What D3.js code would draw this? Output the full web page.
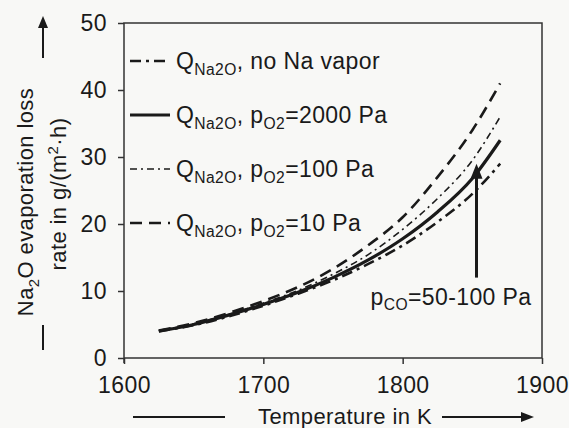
<!DOCTYPE html>
<html>
<head>
<meta charset="utf-8">
<script src="https://cdn.jsdelivr.net/npm/d3@7"></script>
<style>
  body { margin: 0; background: #f8f8f6; }
  svg { font-family: "Liberation Sans", Arial, sans-serif; letter-spacing: 0.4px; }
  .axis path, .axis line { stroke: #333; stroke-width: 1.5px; }
  .axis text { fill: #1a1a1a; font-size: 23px; }
  .curve { fill: none; stroke: #1a1a1a; }
</style>
</head>
<body>
<svg id="chart" width="569" height="428"></svg>
<script>

// temperatures in K
var temps   = [1625, 1650, 1675, 1700, 1725, 1750, 1775, 1800, 1825, 1850, 1870];
// evaporation loss rate in g/(m2 h)
var qNoNa   = [4.0, 4.9, 6.2, 7.8, 9.6, 11.6, 14.0, 16.8, 20.3, 24.5, 29.0];
var q2000   = [4.0, 5.0, 6.4, 8.0, 9.8, 12.0, 14.6, 17.8, 21.8, 26.8, 32.5];
var q100    = [4.1, 5.1, 6.5, 8.2, 10.1, 12.5, 15.4, 19.2, 23.8, 29.5, 36.0];
var q10     = [4.1, 5.2, 6.7, 8.5, 10.6, 13.3, 16.8, 21.0, 27.0, 34.0, 41.0];

var xTicks = [1600, 1700, 1800, 1900];
var yTicks = [0, 10, 20, 30, 40, 50];

var legendLabels = [
  'Q_{Na2O}, no Na vapor',
  'Q_{Na2O}, p_{O2}=2000 Pa',
  'Q_{Na2O}, p_{O2}=100 Pa',
  'Q_{Na2O}, p_{O2}=10 Pa'
];
var annotation = 'p_{CO}=50-100 Pa';
var arrowT = 1853, arrowQ = [12, 29];

var series = [
  {values: qNoNa, width: 2.6, dash: '11,5,3,5'},
  {values: q2000, width: 3.2, dash: null},
  {values: q100,  width: 1.6, dash: '7,4,2,4'},
  {values: q10,   width: 2.6, dash: '12,7'}
];

var m = {top: 23, right: 27, bottom: 70, left: 124};
var W = 569, H = 428;
var width = W - m.left - m.right, height = H - m.top - m.bottom;

var svg = d3.select('#chart');
var g = svg.append('g').attr('transform', 'translate(' + m.left + ',' + m.top + ')');

var x = d3.scaleLinear().domain([1600, 1900]).range([0, width]);
var y = d3.scaleLinear().domain([0, 50]).range([height, 0]);

// writes "a_{b}c" as text with subscript tspans
function richText(sel, str, size) {
  var parts = str.split(/(_\{[^}]*\})/).filter(function (p) { return p; });
  var down = 0;
  parts.forEach(function (p) {
    if (p.charAt(0) === '_') {
      sel.append('tspan').attr('font-size', size * 0.68).attr('dy', size * 0.25)
        .text(p.slice(2, -1));
      down = size * 0.25;
    } else {
      sel.append('tspan').attr('font-size', size).attr('dy', -down).text(p);
      down = 0;
    }
  });
}

// frame
g.append('rect')
  .attr('width', width).attr('height', height)
  .attr('fill', 'none').attr('stroke', '#333').attr('stroke-width', 1.5);

// axes
g.append('g').attr('class', 'axis')
  .attr('transform', 'translate(0,' + height + ')')
  .call(d3.axisBottom(x).tickValues(xTicks).tickSize(6).tickPadding(13).tickFormat(d3.format('d')))
  .call(function (a) { a.select('.domain').remove(); });

g.append('g').attr('class', 'axis')
  .call(d3.axisLeft(y).tickValues(yTicks).tickSize(6).tickPadding(11))
  .call(function (a) { a.select('.domain').remove(); });

// small extension of y axis below the origin
g.append('line')
  .attr('x1', 0).attr('x2', 0).attr('y1', height).attr('y2', height + 5)
  .attr('stroke', '#333').attr('stroke-width', 1.5);

// curves
var line = d3.line()
  .x(function (d, i) { return x(temps[i]); })
  .y(function (d) { return y(d); })
  .curve(d3.curveMonotoneX);

series.forEach(function (s) {
  g.append('path')
    .attr('class', 'curve')
    .attr('d', line(s.values))
    .attr('stroke-width', s.width)
    .attr('stroke-dasharray', s.dash);
});

// legend
var legend = g.append('g').attr('transform', 'translate(6,38)');
legendLabels.forEach(function (lab, i) {
  var row = legend.append('g').attr('transform', 'translate(0,' + (i * 54) + ')');
  var s = series[i];
  row.append('line')
    .attr('x1', 0).attr('x2', 40)
    .attr('stroke', '#1a1a1a')
    .attr('stroke-width', s.width)
    .attr('stroke-dasharray', s.dash);
  var t = row.append('text').attr('x', 46).attr('y', 8).attr('fill', '#1a1a1a');
  richText(t, lab, 23);
});

// annotation arrow
var ax = x(arrowT);
g.append('line')
  .attr('x1', ax).attr('x2', ax)
  .attr('y1', y(arrowQ[0])).attr('y2', y(arrowQ[1]) + 12)
  .attr('stroke', '#1a1a1a').attr('stroke-width', 3);
g.append('path')
  .attr('d', 'M' + ax + ',' + y(arrowQ[1]) + 'l-6,15h12z')
  .attr('fill', '#1a1a1a');
var at = g.append('text').attr('x', ax - 106).attr('y', y(arrowQ[0]) + 27).attr('fill', '#1a1a1a');
richText(at, annotation, 23);

// y axis title
var yt1 = svg.append('text')
  .attr('transform', 'translate(25,202) rotate(-90)')
  .attr('text-anchor', 'middle').attr('y', 8).attr('fill', '#1a1a1a');
richText(yt1, 'Na_{2}O evaporation loss', 22);
var yt2 = svg.append('text')
  .attr('transform', 'translate(58,194) rotate(-90)')
  .attr('text-anchor', 'middle').attr('y', 8).attr('fill', '#1a1a1a');
yt2.append('tspan').attr('font-size', 22).text('rate in g/(m');
yt2.append('tspan').attr('font-size', 15).attr('dy', -8).text('2');
yt2.append('tspan').attr('font-size', 22).attr('dy', 8).text('\u00b7h)');

// y title arrows
svg.append('line').attr('x1', 43).attr('x2', 43).attr('y1', 58).attr('y2', 26)
  .attr('stroke', '#1a1a1a').attr('stroke-width', 2);
svg.append('path').attr('d', 'M43,16l-5,12h10z').attr('fill', '#1a1a1a');
svg.append('line').attr('x1', 43).attr('x2', 43).attr('y1', 325).attr('y2', 350)
  .attr('stroke', '#1a1a1a').attr('stroke-width', 2);

// x axis title
svg.append('text')
  .attr('x', 345).attr('y', 424).attr('text-anchor', 'middle')
  .attr('font-size', 22).attr('fill', '#1a1a1a')
  .text('Temperature in K');
svg.append('line').attr('x1', 133).attr('x2', 225).attr('y1', 417).attr('y2', 417)
  .attr('stroke', '#1a1a1a').attr('stroke-width', 2);
svg.append('line').attr('x1', 442).attr('x2', 522).attr('y1', 417).attr('y2', 417)
  .attr('stroke', '#1a1a1a').attr('stroke-width', 2);
svg.append('path').attr('d', 'M534,417l-13,-5v10z').attr('fill', '#1a1a1a');

</script>
</body>
</html>
